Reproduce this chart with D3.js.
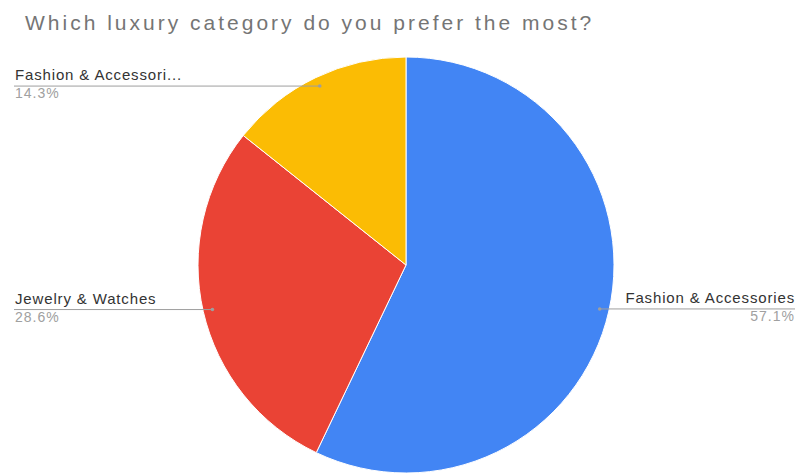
<!DOCTYPE html>
<html>
<head>
<meta charset="utf-8">
<script src="https://cdn.jsdelivr.net/npm/d3@7/dist/d3.min.js"></script>
<style>
  html, body { margin: 0; padding: 0; background: #fff; }
  svg { display: block; font-family: "Liberation Sans", Arial, sans-serif; }
</style>
</head>
<body>
<svg id="chart" width="800" height="473"></svg>
<script>
// Survey answers: share of respondents per preferred luxury category
const categories = ["Fashion & Accessories", "Jewelry & Watches", "Fashion & Accessories"];
const shortLabels = ["Fashion & Accessories", "Jewelry & Watches", "Fashion & Accessori..."];
const values = [57.1, 28.6, 14.3];
const colors = ["#4285f4", "#ea4335", "#fbbc04"];
const title = "Which luxury category do you prefer the most?";

const svg = d3.select("#chart");
const cx = 406, cy = 265, R = 208;

svg.append("text")
  .attr("x", 25).attr("y", 30)
  .attr("font-size", 21)
  .attr("letter-spacing", 3)
  .attr("fill", "#757575")
  .text(title);

const pie = d3.pie().sort(null).value(d => d.value);
const data = values.map((v, i) => ({ value: v, name: categories[i], label: shortLabels[i], color: colors[i] }));
const arcs = pie(data);
const arc = d3.arc().innerRadius(0).outerRadius(R);

const g = svg.append("g").attr("transform", `translate(${cx},${cy})`);
g.selectAll("path.slice")
  .data(arcs)
  .join("path")
  .attr("class", "slice")
  .attr("d", arc)
  .attr("fill", d => d.data.color)
  .attr("stroke", "#fff")
  .attr("stroke-width", 1);

// Leader lines anchored near the rim at each slice's mid angle
const anchorR = R * 0.955;
const labelG = svg.append("g");
arcs.forEach(d => {
  const a = (d.startAngle + d.endAngle) / 2;
  const ax = cx + anchorR * Math.sin(a);
  const ay = cy - anchorR * Math.cos(a);
  const right = Math.sin(a) > 0;
  const x2 = right ? 795 : 14;
  labelG.append("line")
    .attr("x1", ax).attr("y1", ay)
    .attr("x2", x2).attr("y2", ay)
    .attr("stroke", "#9e9e9e").attr("stroke-width", 1);
  labelG.append("circle")
    .attr("cx", ax).attr("cy", ay).attr("r", 1.8)
    .attr("fill", "#9e9e9e");
  const anchor = right ? "end" : "start";
  labelG.append("text")
    .attr("x", x2 + (right ? 0 : 1)).attr("y", ay - 6)
    .attr("text-anchor", anchor)
    .attr("font-size", 15)
    .attr("letter-spacing", 0.85)
    .attr("fill", "#333")
    .text(d.data.label);
  labelG.append("text")
    .attr("x", x2 + (right ? 0 : 1)).attr("y", ay + 12)
    .attr("text-anchor", anchor)
    .attr("font-size", 14)
    .attr("letter-spacing", 1)
    .attr("fill", "#a0a0a0")
    .text(d3.format(".1f")(d.data.value) + "%");
});
</script>
</body>
</html>
